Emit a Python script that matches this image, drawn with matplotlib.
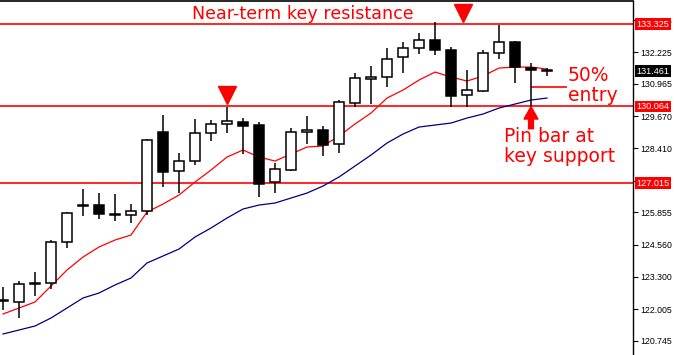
import matplotlib
matplotlib.use("Agg")
import matplotlib.pyplot as plt
import matplotlib.transforms as mtransforms
import numpy as np

# daily candles (open, high, low, close)
opens = [122.33, 122.293, 123.00, 123.047, 124.676, 126.10, 126.146, 125.75, 125.749, 125.908,
         129.047, 127.497, 127.894, 129.007, 129.365, 129.444, 129.325, 127.060, 127.537, 129.047,
         129.126, 128.570, 130.199, 131.152, 131.232, 132.026, 132.384, 132.702, 132.304, 130.517,
         130.676, 132.185, 132.622, 131.589, 131.510]
highs = [122.889, 123.127, 123.484, 124.756, 125.868, 126.782, 126.623, 126.584, 126.186, 128.769,
         129.722, 128.212, 129.563, 129.523, 130.040, 129.603, 129.444, 127.815, 129.206, 129.682,
         129.285, 130.318, 131.391, 131.669, 132.384, 132.622, 132.980, 133.417, 132.424, 131.510,
         132.305, 133.298, 132.662, 131.788, 131.589]
lows = [121.975, 121.657, 122.531, 122.809, 124.438, 125.709, 125.590, 125.511, 125.431, 125.749,
        126.862, 126.623, 127.735, 128.689, 129.007, 128.173, 126.464, 126.623, 127.497, 128.570,
        128.093, 128.212, 130.040, 130.159, 130.834, 131.391, 132.146, 132.106, 130.050, 130.040,
        130.636, 131.947, 130.993, 130.060, 131.271]
closes = [122.34, 123.008, 123.01, 124.676, 125.829, 126.11, 125.789, 125.76, 125.908, 128.729,
          127.458, 127.894, 129.007, 129.365, 129.484, 129.285, 126.981, 127.577, 129.047, 129.126,
          128.530, 130.239, 131.192, 131.232, 131.947, 132.384, 132.702, 132.304, 130.477, 130.715,
          132.185, 132.622, 131.629, 131.510, 131.461]

# moving averages
ma_fast = [121.816, 122.054, 122.293, 122.927, 123.564, 124.080, 124.478, 124.756, 124.954, 125.868,
           126.186, 126.544, 127.060, 127.537, 128.053, 128.332, 128.053, 127.894, 128.173, 128.451,
           128.491, 128.888, 129.365, 129.802, 130.397, 130.715, 131.113, 131.430, 131.232, 131.073,
           131.272, 131.589, 131.629, 131.629, 131.550]
ma_slow = [121.021, 121.180, 121.339, 121.657, 122.054, 122.452, 122.650, 122.969, 123.247, 123.843,
           124.120, 124.398, 124.875, 125.233, 125.630, 125.987, 126.146, 126.226, 126.424, 126.623,
           126.901, 127.259, 127.696, 128.133, 128.610, 128.967, 129.245, 129.325, 129.404, 129.603,
           129.762, 130.000, 130.159, 130.318, 130.397]

levels = [133.325, 130.064, 127.015]
last_price = 131.461
entry_level = 130.84
pin_bar = 33
resist_touch = 14

ytick_vals = [120.745, 122.005, 123.300, 124.560, 125.855, 127.115, 128.410, 129.670,
              130.965, 132.225, 133.485]

tick_font = "Liberation Sans"
tick_size = 6.3

fig = plt.figure(figsize=(6.74, 3.55), dpi=100)
ax = fig.add_axes([0, 0, 633 / 674, 0.997])

x = np.arange(len(opens))
o = np.array(opens)
c = np.array(closes)
h = np.array(highs)
l = np.array(lows)

# wicks
ax.vlines(x, l, h, color="black", lw=1.1, zorder=3)
# bodies
bottoms = np.minimum(o, c)
heights = np.maximum(np.abs(c - o), 0.04)
faces = ["white" if cc >= oo else "black" for oo, cc in zip(o, c)]
ax.bar(x, heights, bottom=bottoms, width=0.62, color=faces, edgecolor="black",
       linewidth=1.1, zorder=4)

ax.plot(x, ma_fast, color="#ff0000", lw=0.9, zorder=2)
ax.plot(x, ma_slow, color="#000080", lw=0.9, zorder=2)

for lv in levels:
    ax.axhline(lv, color="#ff0000", lw=1.2, zorder=1)

# 50% entry line
ax.hlines(entry_level, pin_bar, pin_bar + 2.25, color="#ff0000", lw=1.2, zorder=2)

ax.set_xlim(-0.1875, 39.375)
ax.set_ylim(120.187, 134.251)

ax.yaxis.tick_right()
ax.set_yticks(ytick_vals)
ax.set_yticklabels(["%.3f" % v for v in ytick_vals], fontfamily=tick_font, fontsize=tick_size)
ax.tick_params(axis="y", length=3.5, width=0.8, pad=1.5)
ax.set_xticks([])
for s in ["left", "bottom"]:
    ax.spines[s].set_visible(False)
ax.spines["top"].set_linewidth(1.2)
ax.spines["right"].set_linewidth(1.0)

# price boxes on the scale
trans = mtransforms.blended_transform_factory(ax.transAxes, ax.transData)
for lv in levels:
    ax.text(1.006, lv, "%.3f" % lv, transform=trans, ha="left", va="center",
            fontfamily=tick_font, fontsize=6.6, color="white", zorder=10, clip_on=False,
            bbox=dict(boxstyle="square,pad=0.15", fc="#ff0000", ec="none"))
ax.text(1.006, last_price, "%.3f" % last_price, transform=trans, ha="left", va="center",
        fontfamily=tick_font, fontsize=6.6, color="white", zorder=10, clip_on=False,
        bbox=dict(boxstyle="square,pad=0.15", fc="black", ec="none"))

# annotations
red = "#ff0000"
ax.text(18.75, 133.74, "Near-term key resistance", color=red, fontsize=12.6,
        ha="center", va="center")
ax.text(35.3, entry_level + 0.05, "50%\nentry", color=red, fontsize=13.5,
        ha="left", va="center", linespacing=1.05)
ax.text(31.3, 128.47, "Pin bar at\nkey support", color=red, fontsize=13.5,
        ha="left", va="center", linespacing=1.05)

off = mtransforms.offset_copy(ax.transData, fig=fig, x=0, y=9, units="points")
ax.plot([resist_touch], [highs[resist_touch]], marker="v", color=red, markersize=13,
        transform=off, linestyle="none", zorder=6)
top_trans = mtransforms.blended_transform_factory(ax.transData, ax.transAxes)
ax.plot([28.75], [0.966], marker="v", color=red, markersize=13,
        transform=top_trans, linestyle="none", zorder=6, clip_on=False)

ax.annotate("", xy=(pin_bar, lows[pin_bar]), xytext=(0, -16), textcoords="offset points",
            arrowprops=dict(facecolor=red, edgecolor=red, width=3.5, headwidth=10,
                            headlength=9, shrink=0))

fig.savefig("out.png", dpi=100)
